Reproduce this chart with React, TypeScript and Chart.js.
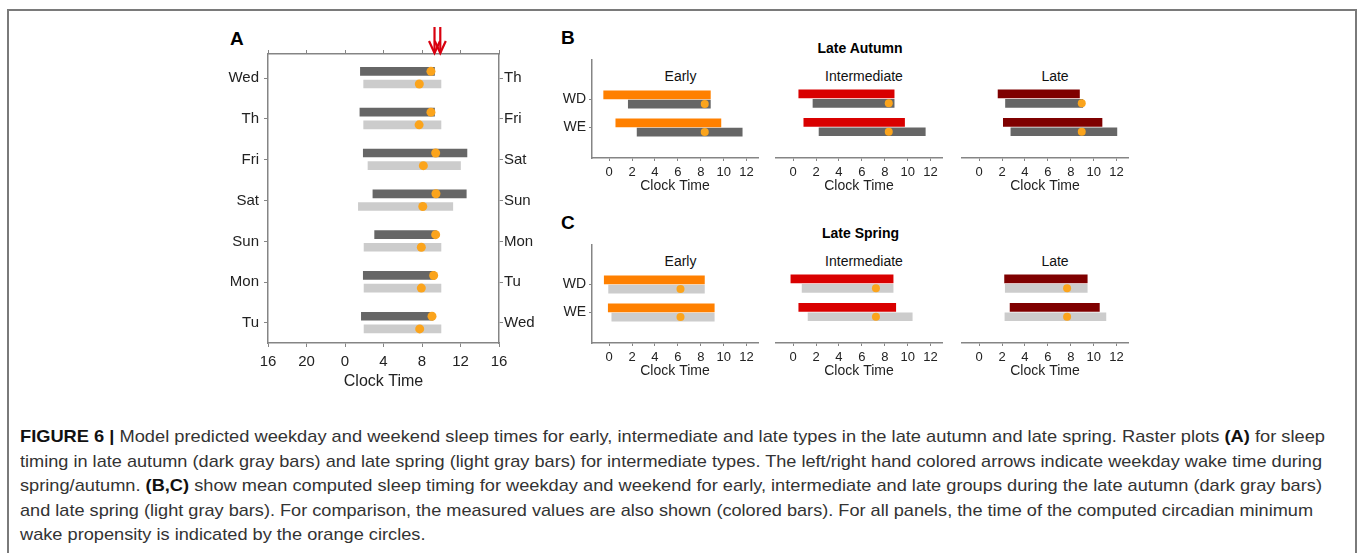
import React, { useEffect, useLayoutEffect, useRef } from 'react';
import { Chart, registerables } from 'chart.js';

Chart.register(...registerables);

const FONT = '"Liberation Sans", Arial, Helvetica, sans-serif';
Chart.defaults.font.family = FONT;
Chart.defaults.color = '#222222';

// ---------------- Panel A data (intermediate types, raster) ----------------
const dayLabelsLeft = ['Wed', 'Th', 'Fri', 'Sat', 'Sun', 'Mon', 'Tu'];
const dayLabelsRight = ['Th', 'Fri', 'Sat', 'Sun', 'Mon', 'Tu', 'Wed'];
const autumnSleepStart = [1.6, 1.55, 1.9, 2.9, 3.08, 1.9, 1.7];
const autumnSleepEnd = [9.3, 9.3, 12.67, 12.6, 9.49, 9.3, 9.14];
const autumnCircMin = [8.93, 8.93, 9.42, 9.45, 9.42, 9.21, 9.04];
const springSleepStart = [1.94, 1.94, 2.39, 1.39, 1.98, 1.98, 1.98];
const springSleepEnd = [9.97, 9.97, 12.0, 11.2, 9.97, 9.97, 9.97];
const springCircMin = [7.72, 7.7, 8.14, 8.08, 7.93, 7.93, 7.76];
const wakeArrowTimes = [9.3, 9.9];
const clockTicksA = [-8, -4, 0, 4, 8, 12, 16];
const clockTickLabelsA = ['16', '20', '0', '4', '8', '12', '16'];

// ---------------- Panels B and C data ----------------
const dayTypes = ['WD', 'WE'];
const chronotypes = ['Early', 'Intermediate', 'Late'];
const clockTicksBC = [0, 2, 4, 6, 8, 10, 12];
const clockTickLabelsBC = ['0', '2', '4', '6', '8', '10', '12'];

// Late autumn (B): [start, end] per WD / WE
const autumnMeasuredEarly = [[-0.48, 8.84], [0.58, 9.76]];
const autumnModelEarly = [[1.67, 8.84], [2.44, 11.62]];
const autumnMinEarly = [8.35, 8.35];
const autumnMeasuredIntermediate = [[0.49, 8.82], [0.93, 9.73]];
const autumnModelIntermediate = [[1.73, 8.82], [2.26, 11.54]];
const autumnMinIntermediate = [8.35, 8.35];
const autumnMeasuredLate = [[1.65, 8.76], [2.11, 10.73]];
const autumnModelLate = [[2.3, 9.05], [2.77, 12.03]];
const autumnMinLate = [8.96, 8.96];

// Late spring (C)
const springMeasuredEarly = [[-0.43, 8.32], [-0.08, 9.18]];
const springModelEarly = [[-0.05, 8.32], [0.23, 9.18]];
const springMinEarly = [6.23, 6.23];
const springMeasuredIntermediate = [[-0.2, 8.73], [0.49, 8.96]];
const springModelIntermediate = [[0.78, 8.73], [1.3, 10.4]];
const springMinIntermediate = [7.23, 7.23];
const springMeasuredLate = [[2.22, 9.44], [2.7, 10.5]];
const springModelLate = [[2.28, 9.44], [2.25, 11.07]];
const springMinLate = [7.68, 7.68];

// ---------------- styles ----------------
const AXIS = '#858585';
const TEXT = '#222222';
const DOT = '#fba41c';
const AUTUMN_GRAY = '#666666';
const SPRING_GRAY = '#cccccc';
const MEASURED_COLORS = ['#ff8000', '#d90000', '#7f0000'];

const A_DARK_OFFSET = -0.165;
const A_LIGHT_OFFSET = 0.145;
const SMALL_MEAS_OFFSET = -0.165;
const SMALL_MODEL_OFFSET = 0.165;

function fixedTicks(values: number[]) {
  return (scale: any) => {
    scale.ticks = values.map((v) => ({ value: v }));
  };
}

function PanelA() {
  const ref = useRef<HTMLCanvasElement>(null);
  const ML = 68, MT = 40, MR = 61, MB = 57;
  const area = { left: 268, top: 54, right: 499, bottom: 343 };
  const W = area.right - area.left + ML + MR;
  const H = area.bottom - area.top + MT + MB;
  useEffect(() => {
    const rows = dayLabelsLeft.map((_, i) => i);
    const arrowPlugin = {
      id: 'wakeArrows',
      afterDraw(chart: any) {
        const ctx = chart.ctx;
        const xs = chart.scales.x;
        const top = chart.chartArea.top;
        ctx.save();
        ctx.strokeStyle = '#d9000f';
        ctx.lineWidth = 2.2;
        wakeArrowTimes.forEach((t) => {
          const x = xs.getPixelForValue(t);
          ctx.beginPath();
          ctx.moveTo(x, top - 27);
          ctx.lineTo(x, top - 1);
          ctx.stroke();
          ctx.beginPath();
          ctx.moveTo(x - 5.5, top - 13);
          ctx.lineTo(x, top - 1);
          ctx.lineTo(x + 5.5, top - 13);
          ctx.stroke();
        });
        ctx.restore();
      },
    };
    const gridOpts = { drawOnChartArea: false, tickLength: 4, color: AXIS, offset: false };
    const borderOpts = { color: AXIS, width: 1.5 };
    const chart = new Chart(ref.current as HTMLCanvasElement, {
      type: 'bar',
      data: {
        datasets: [
          {
            type: 'scatter',
            data: rows.map((i) => ({ x: autumnCircMin[i], y: i + A_DARK_OFFSET })),
            pointRadius: 4.5,
            pointBackgroundColor: DOT,
            pointBorderWidth: 0,
            order: 0,
            xAxisID: 'x',
            yAxisID: 'y',
          } as any,
          {
            type: 'scatter',
            data: rows.map((i) => ({ x: springCircMin[i], y: i + A_LIGHT_OFFSET })),
            pointRadius: 4.5,
            pointBackgroundColor: DOT,
            pointBorderWidth: 0,
            order: 0,
            xAxisID: 'x',
            yAxisID: 'y',
          } as any,
          {
            type: 'bar',
            data: rows.map((i) => ({ x: [autumnSleepStart[i], autumnSleepEnd[i]], y: i + A_DARK_OFFSET })),
            backgroundColor: AUTUMN_GRAY,
            barThickness: 8,
            grouped: false,
            order: 1,
            xAxisID: 'x',
            yAxisID: 'y',
          } as any,
          {
            type: 'bar',
            data: rows.map((i) => ({ x: [springSleepStart[i], springSleepEnd[i]], y: i + A_LIGHT_OFFSET })),
            backgroundColor: SPRING_GRAY,
            barThickness: 8,
            grouped: false,
            order: 1,
            xAxisID: 'x',
            yAxisID: 'y',
          } as any,
        ],
      },
      options: {
        indexAxis: 'y',
        animation: false,
        responsive: false,
        events: [],
        layout: { padding: 0 },
        plugins: { legend: { display: false }, tooltip: { enabled: false } },
        scales: {
          x: {
            type: 'linear',
            position: 'bottom',
            min: -8,
            max: 16,
            offset: false,
            afterBuildTicks: fixedTicks(clockTicksA),
            ticks: {
              callback: (_v: any, i: number) => clockTickLabelsA[i],
              font: { size: 15 },
              color: TEXT,
              padding: 6,
              maxRotation: 0,
              autoSkip: false,
            },
            grid: gridOpts,
            border: borderOpts,
            title: { display: true, text: 'Clock Time', font: { size: 16 }, color: TEXT, padding: { top: 0, bottom: 8.5 } },
            afterFit: (s: any) => { s.height = MB; },
          },
          xTop: {
            type: 'linear',
            position: 'top',
            min: -8,
            max: 16,
            offset: false,
            afterBuildTicks: fixedTicks(clockTicksA),
            ticks: { display: false },
            grid: gridOpts,
            border: borderOpts,
            afterFit: (s: any) => { s.height = MT; },
          },
          y: {
            type: 'linear',
            position: 'left',
            reverse: true,
            min: -0.59,
            max: 6.49,
            offset: false,
            afterBuildTicks: fixedTicks(rows),
            ticks: {
              callback: (_v: any, i: number) => dayLabelsLeft[i],
              font: { size: 15 },
              color: TEXT,
              padding: 5,
              autoSkip: false,
            },
            grid: gridOpts,
            border: borderOpts,
            afterFit: (s: any) => { s.width = ML; },
          },
          yRight: {
            type: 'linear',
            position: 'right',
            reverse: true,
            min: -0.59,
            max: 6.49,
            offset: false,
            afterBuildTicks: fixedTicks(rows),
            ticks: {
              callback: (_v: any, i: number) => dayLabelsRight[i],
              font: { size: 15 },
              color: TEXT,
              padding: 1,
              autoSkip: false,
            },
            grid: gridOpts,
            border: borderOpts,
            afterFit: (s: any) => { s.width = MR; },
          },
        },
      } as any,
      plugins: [arrowPlugin],
    });
    return () => chart.destroy();
  }, []);
  return (
    <canvas
      ref={ref}
      width={W}
      height={H}
      style={{ position: 'absolute', left: area.left - ML, top: area.top - MT, width: W, height: H }}
    />
  );
}

type SmallProps = {
  area: { left: number; top: number; right: number; bottom: number };
  showY: boolean;
  measured: number[][];
  model: number[][];
  mins: number[];
  color: string;
  modelColor: string;
};

function SmallChart({ area, showY, measured, model, mins, color, modelColor }: SmallProps) {
  const ref = useRef<HTMLCanvasElement>(null);
  const ML = showY ? 45 : 30, MT = 10, MR = 10, MB = 45;
  const W = area.right - area.left + ML + MR;
  const H = area.bottom - area.top + MT + MB;
  useEffect(() => {
    const rows = dayTypes.map((_, i) => i);
    const gridOpts = { drawOnChartArea: false, tickLength: 3, color: AXIS, offset: false };
    const borderOpts = { color: AXIS, width: 1.5 };
    const chart = new Chart(ref.current as HTMLCanvasElement, {
      type: 'bar',
      data: {
        datasets: [
          {
            type: 'scatter',
            data: rows.map((i) => ({ x: mins[i], y: i + SMALL_MODEL_OFFSET })),
            pointRadius: 4,
            pointBackgroundColor: DOT,
            pointBorderWidth: 0,
            order: 0,
            xAxisID: 'x',
            yAxisID: 'y',
          } as any,
          {
            type: 'bar',
            data: rows.map((i) => ({ x: [measured[i][0], measured[i][1]], y: i + SMALL_MEAS_OFFSET })),
            backgroundColor: color,
            barThickness: 8,
            grouped: false,
            order: 1,
            xAxisID: 'x',
            yAxisID: 'y',
          } as any,
          {
            type: 'bar',
            data: rows.map((i) => ({ x: [model[i][0], model[i][1]], y: i + SMALL_MODEL_OFFSET })),
            backgroundColor: modelColor,
            barThickness: 8,
            grouped: false,
            order: 1,
            xAxisID: 'x',
            yAxisID: 'y',
          } as any,
        ],
      },
      options: {
        indexAxis: 'y',
        animation: false,
        responsive: false,
        events: [],
        layout: { padding: { left: 0, top: MT, right: MR, bottom: 0 } },
        plugins: { legend: { display: false }, tooltip: { enabled: false } },
        scales: {
          x: {
            type: 'linear',
            position: 'bottom',
            min: -1.5,
            max: 13,
            offset: false,
            afterBuildTicks: fixedTicks(clockTicksBC),
            ticks: {
              callback: (_v: any, i: number) => clockTickLabelsBC[i],
              font: { size: 13 },
              color: TEXT,
              padding: 4,
              maxRotation: 0,
              autoSkip: false,
            },
            grid: gridOpts,
            border: borderOpts,
            title: { display: true, text: 'Clock Time', font: { size: 14 }, color: TEXT, padding: { top: 0, bottom: 8 } },
            afterFit: (s: any) => { s.height = MB; },
          },
          y: {
            type: 'linear',
            display: showY,
            position: 'left',
            reverse: true,
            min: -1.43,
            max: 2.09,
            offset: false,
            afterBuildTicks: fixedTicks(rows),
            ticks: {
              callback: (_v: any, i: number) => dayTypes[i],
              font: { size: 14 },
              color: TEXT,
              padding: 3,
              autoSkip: false,
            },
            grid: gridOpts,
            border: borderOpts,
            afterFit: (s: any) => { s.width = ML; },
          },
        },
      } as any,
    });
    return () => chart.destroy();
  }, []);
  return (
    <canvas
      ref={ref}
      width={W}
      height={H}
      style={{ position: 'absolute', left: area.left - ML, top: area.top - MT, width: W, height: H }}
    />
  );
}

function Text({ x, y, size, bold, align, children, color }: any) {
  const style: any = {
    position: 'absolute',
    top: y - size / 2,
    fontSize: size,
    lineHeight: `${size}px`,
    fontWeight: bold ? 700 : 400,
    fontFamily: FONT,
    color: color || '#111',
    whiteSpace: 'nowrap',
  };
  if (align === 'left') {
    style.left = x;
  } else {
    style.left = x - 150;
    style.width = 300;
    style.textAlign = 'center';
  }
  return <div style={style}>{children}</div>;
}

type Seg = { t: string; b?: boolean };
const captionLines: Seg[][] = [
  [
    { t: 'FIGURE 6 |', b: true },
    { t: ' Model predicted weekday and weekend sleep times for early, intermediate and late types in the late autumn and late spring. Raster plots ' },
    { t: '(A)', b: true },
    { t: ' for sleep' },
  ],
  [{ t: 'timing in late autumn (dark gray bars) and late spring (light gray bars) for intermediate types. The left/right hand colored arrows indicate weekday wake time during' }],
  [
    { t: 'spring/autumn. ' },
    { t: '(B,C)', b: true },
    { t: ' show mean computed sleep timing for weekday and weekend for early, intermediate and late groups during the late autumn (dark gray bars)' },
  ],
  [{ t: 'and late spring (light gray bars). For comparison, the measured values are also shown (colored bars). For all panels, the time of the computed circadian minimum' }],
  [{ t: 'wake propensity is indicated by the orange circles.' }],
];
const CAPTION_LEFT = 20;
const captionLineRight = [1325, 1322, 1322, 1313, 0];

function Caption() {
  const refs = useRef<(HTMLSpanElement | null)[]>([]);
  useLayoutEffect(() => {
    const widths = refs.current.map((el) => (el ? el.getBoundingClientRect().width : 0));
    const scales = widths.map((w, i) => (captionLineRight[i] && w ? (captionLineRight[i] - CAPTION_LEFT) / w : 0));
    const known = scales.filter((s) => s > 0);
    const avg = known.reduce((a, b) => a + b, 0) / known.length;
    refs.current.forEach((el, i) => {
      if (el) el.style.transform = `scaleX(${scales[i] || avg})`;
    });
  }, []);
  return (
    <>
      {captionLines.map((segs, i) => (
        <div
          key={i}
          style={{
            position: 'absolute',
            left: CAPTION_LEFT,
            top: 437 + i * 24.5 - 12,
            height: 24,
            lineHeight: '24px',
            fontSize: 17,
            fontFamily: FONT,
            color: '#333',
            whiteSpace: 'nowrap',
          }}
        >
          <span
            ref={(el) => { refs.current[i] = el; }}
            style={{ display: 'inline-block', transformOrigin: 'left center' }}
          >
            {segs.map((s, j) => (
              <span key={j} style={{ fontWeight: s.b ? 700 : 400, color: s.b ? '#111' : '#333' }}>{s.t}</span>
            ))}
          </span>
        </div>
      ))}
    </>
  );
}

const columnsX = [
  { left: 592, right: 758 },
  { left: 776, right: 942 },
  { left: 962, right: 1128 },
];
const titleCentersX = [680.5, 864, 1055];

export default function App() {
  const autumnMeasured = [autumnMeasuredEarly, autumnMeasuredIntermediate, autumnMeasuredLate];
  const autumnModel = [autumnModelEarly, autumnModelIntermediate, autumnModelLate];
  const autumnMins = [autumnMinEarly, autumnMinIntermediate, autumnMinLate];
  const springMeasured = [springMeasuredEarly, springMeasuredIntermediate, springMeasuredLate];
  const springModel = [springModelEarly, springModelIntermediate, springModelLate];
  const springMins = [springMinEarly, springMinIntermediate, springMinLate];
  return (
    <div
      style={{
        position: 'fixed',
        left: 0,
        top: 0,
        width: 1360,
        height: 553,
        overflow: 'hidden',
        background: '#ffffff',
        fontFamily: FONT,
      }}
    >
      <div
        style={{
          position: 'absolute',
          left: 7,
          top: 9,
          width: 1350,
          height: 620,
          boxSizing: 'border-box',
          border: '2px solid #7a7a7a',
        }}
      />
      <Text x={230} y={38.5} size={19} bold align="left" color="#000">A</Text>
      <Text x={561} y={37} size={19} bold align="left" color="#000">B</Text>
      <Text x={561} y={222.5} size={19} bold align="left" color="#000">C</Text>
      <Text x={860} y={48.3} size={14} bold color="#000">Late Autumn</Text>
      <Text x={860.5} y={233.3} size={14} bold color="#000">Late Spring</Text>
      {chronotypes.map((c, k) => (
        <Text key={'ta' + k} x={titleCentersX[k]} y={76} size={14}>{c}</Text>
      ))}
      {chronotypes.map((c, k) => (
        <Text key={'ts' + k} x={titleCentersX[k]} y={261} size={14}>{c}</Text>
      ))}
      <PanelA />
      {chronotypes.map((_, k) => (
        <SmallChart
          key={'b' + k}
          area={{ left: columnsX[k].left, right: columnsX[k].right, top: 58, bottom: 158 }}
          showY={k === 0}
          measured={autumnMeasured[k]}
          model={autumnModel[k]}
          mins={autumnMins[k]}
          color={MEASURED_COLORS[k]}
          modelColor={AUTUMN_GRAY}
        />
      ))}
      {chronotypes.map((_, k) => (
        <SmallChart
          key={'c' + k}
          area={{ left: columnsX[k].left, right: columnsX[k].right, top: 243, bottom: 343 }}
          showY={k === 0}
          measured={springMeasured[k]}
          model={springModel[k]}
          mins={springMins[k]}
          color={MEASURED_COLORS[k]}
          modelColor={SPRING_GRAY}
        />
      ))}
      <Caption />
    </div>
  );
}
